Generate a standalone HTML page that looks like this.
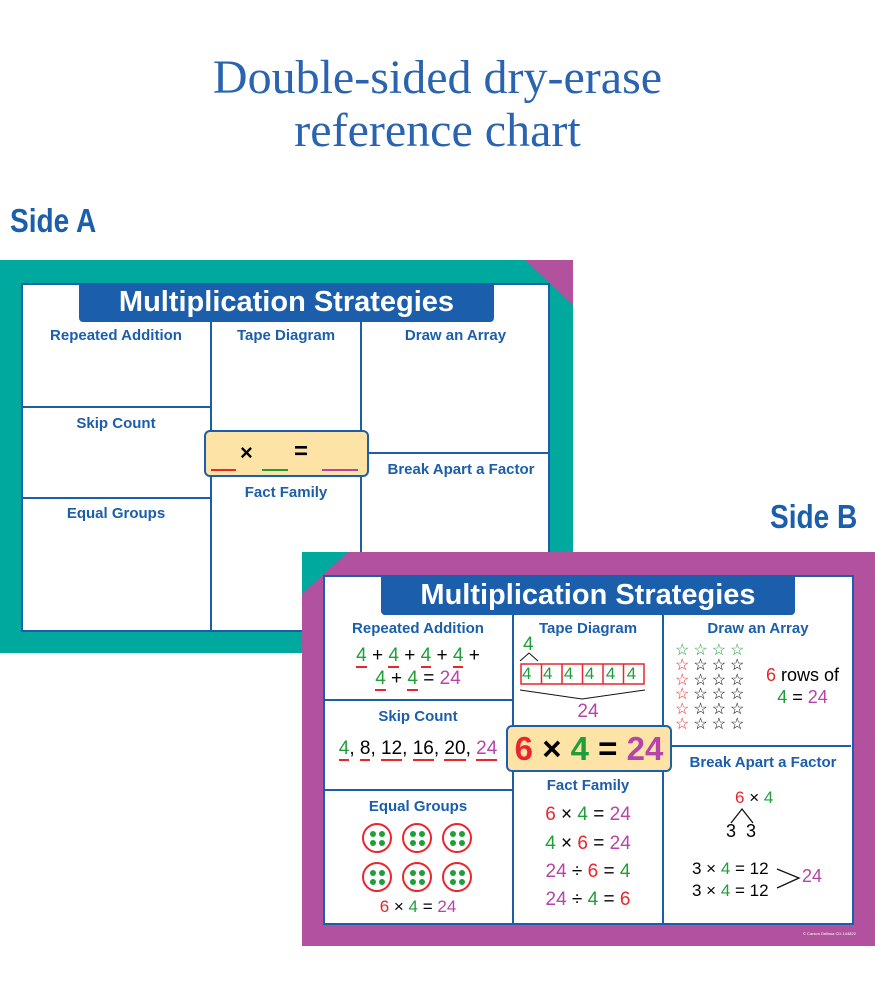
<!DOCTYPE html><html><head><style>
body{margin:0;width:875px;height:1000px;background:#fff;position:relative;overflow:hidden;font-family:"Liberation Sans",sans-serif}
.a{position:absolute}
.h{color:#1b5eab;font-weight:bold;font-size:15px;text-align:center;position:absolute}
.ln{position:absolute;background:#1b5eab}
.r{color:#e8262b}.g{color:#1f9e3a}.p{color:#b545a8}.k{color:#111}
.m{position:absolute;font-size:19px;text-align:center;white-space:nowrap}
u{text-decoration:none;border-bottom:2px solid #e8262b}
.c{position:absolute;width:30px;height:30px;border:2px solid #e8262b;border-radius:50%;box-sizing:border-box}
.c i{position:absolute;width:6px;height:6px;border-radius:50%;background:#1f9e3a}
</style></head><body>
<div class="a" style="left:0;top:51px;width:875px;text-align:center;font-family:'Liberation Serif',serif;font-size:48px;color:#2a63b0;line-height:53px">Double-sided dry-erase<br>reference chart</div>
<div class="a" style="left:10px;top:202px;font-size:33px;font-weight:bold;color:#1b5eab;transform:scaleX(0.85);transform-origin:left">Side A</div>
<div class="a" style="left:770px;top:498px;font-size:33px;font-weight:bold;color:#1b5eab;transform:scaleX(0.85);transform-origin:left">Side B</div>

<!-- Side A -->
<div class="a" style="left:0;top:260px;width:573px;height:393px;background:#00a99d"></div>
<div class="a" style="left:525px;top:260px;width:0;height:0;border-top:45px solid #b2529e;border-left:48px solid transparent"></div>
<div class="a" style="left:21px;top:283px;width:525px;height:345px;background:#fff;border:2px solid #1b5eab"></div>
<div class="a" style="left:79px;top:284px;width:415px;height:38px;background:#1b5eab;border-radius:0 0 4px 4px;color:#fff;font-weight:bold;font-size:29px;text-align:center;line-height:36px">Multiplication Strategies</div>
<div class="ln" style="left:210px;top:322px;width:2px;height:308px"></div>
<div class="ln" style="left:360px;top:322px;width:2px;height:308px"></div>
<div class="ln" style="left:21px;top:406px;width:190px;height:2px"></div>
<div class="ln" style="left:21px;top:497px;width:190px;height:2px"></div>
<div class="ln" style="left:361px;top:452px;width:188px;height:2px"></div>
<div class="h" style="left:21px;top:327px;width:190px">Repeated Addition</div>
<div class="h" style="left:211px;top:327px;width:150px">Tape Diagram</div>
<div class="h" style="left:361px;top:327px;width:189px">Draw an Array</div>
<div class="h" style="left:21px;top:415px;width:190px">Skip Count</div>
<div class="h" style="left:21px;top:505px;width:190px">Equal Groups</div>
<div class="h" style="left:211px;top:484px;width:150px">Fact Family</div>
<div class="h" style="left:372px;top:461px;width:178px">Break Apart a Factor</div>
<div class="a" style="left:204px;top:430px;width:161px;height:43px;background:#fde4a6;border:2px solid #1b5eab;border-radius:6px"></div>
<div class="a" style="left:240px;top:440px;font-size:22px;font-weight:bold">×</div>
<div class="a" style="left:294px;top:438px;font-size:24px;font-weight:bold">=</div>
<div class="a" style="left:211px;top:469px;width:25px;height:2px;background:#e8262b"></div>
<div class="a" style="left:262px;top:469px;width:26px;height:2px;background:#1f9e3a"></div>
<div class="a" style="left:322px;top:469px;width:36px;height:2px;background:#b545a8"></div>

<!-- Side B -->
<div class="a" style="left:302px;top:552px;width:573px;height:394px;background:#b2529e"></div>
<div class="a" style="left:302px;top:552px;width:0;height:0;border-top:42px solid #00a99d;border-right:46px solid transparent"></div>
<div class="a" style="left:323px;top:575px;width:527px;height:346px;background:#fff;border:2px solid #1b5eab"></div>
<div class="a" style="left:381px;top:577px;width:414px;height:38px;background:#1b5eab;border-radius:0 0 4px 4px;color:#fff;font-weight:bold;font-size:29px;text-align:center;line-height:36px">Multiplication Strategies</div>
<div class="ln" style="left:512px;top:615px;width:2px;height:308px"></div>
<div class="ln" style="left:662px;top:615px;width:2px;height:308px"></div>
<div class="ln" style="left:323px;top:699px;width:190px;height:2px"></div>
<div class="ln" style="left:323px;top:789px;width:190px;height:2px"></div>
<div class="ln" style="left:663px;top:745px;width:188px;height:2px"></div>
<div class="h" style="left:323px;top:620px;width:190px">Repeated Addition</div>
<div class="h" style="left:513px;top:620px;width:150px">Tape Diagram</div>
<div class="h" style="left:663px;top:620px;width:190px">Draw an Array</div>
<div class="h" style="left:323px;top:708px;width:190px">Skip Count</div>
<div class="h" style="left:323px;top:798px;width:190px">Equal Groups</div>
<div class="h" style="left:513px;top:777px;width:150px">Fact Family</div>
<div class="h" style="left:673px;top:754px;width:180px">Break Apart a Factor</div>

<div class="m" style="left:323px;top:645px;width:190px"><u class="g">4</u> + <u class="g">4</u> + <u class="g">4</u> + <u class="g">4</u> +</div>
<div class="m" style="left:323px;top:668px;width:190px"><u class="g">4</u> + <u class="g">4</u> = <span class="p">24</span></div>
<div class="m" style="left:323px;top:738px;width:190px"><u class="g">4</u>, <u>8</u>, <u>12</u>, <u>16</u>, <u>20</u>, <u class="p">24</u></div>

<!-- tape -->
<div class="m g" style="left:523px;top:634px">4</div>
<svg class="a" style="left:515px;top:650px" width="150" height="60"><polyline points="5,11 14,3 23,11" fill="none" stroke="#111"/><rect x="6" y="14" width="123" height="20" fill="none" stroke="#e8262b" stroke-width="1.5"/><g stroke="#e8262b" stroke-width="1.5"><line x1="26.5" y1="14" x2="26.5" y2="34"/><line x1="47" y1="14" x2="47" y2="34"/><line x1="67.5" y1="14" x2="67.5" y2="34"/><line x1="88" y1="14" x2="88" y2="34"/><line x1="108.5" y1="14" x2="108.5" y2="34"/></g><polyline points="5,40 67,49 130,40" fill="none" stroke="#111"/></svg>
<div class="a g" style="left:522px;top:664px;font-size:17px;letter-spacing:11.5px">444444</div>
<div class="m p" style="left:513px;top:701px;width:150px">24</div>

<!-- array -->
<div class="a" style="left:675px;top:644px;font-size:16px;line-height:14.8px;letter-spacing:4px"><span class="g">☆☆☆☆</span><br><span class="r">☆</span>☆☆☆<br><span class="r">☆</span>☆☆☆<br><span class="r">☆</span>☆☆☆<br><span class="r">☆</span>☆☆☆<br><span class="r">☆</span>☆☆☆</div>
<div class="m" style="left:755px;top:664px;width:95px;font-size:18px;line-height:22px"><span class="r">6</span> rows of<br><span class="g">4</span> = <span class="p">24</span></div>

<!-- center box -->
<div class="a" style="left:506px;top:725px;width:162px;height:43px;background:#fde4a6;border:2px solid #1b5eab;border-radius:6px;text-align:center;font-size:33px;font-weight:bold;line-height:43px"><span class="r">6</span> × <span class="g">4</span> = <span class="p">24</span></div>

<!-- fact family -->
<div class="m" style="left:513px;top:804px;width:150px"><span class="r">6</span> × <span class="g">4</span> = <span class="p">24</span></div>
<div class="m" style="left:513px;top:833px;width:150px"><span class="g">4</span> × <span class="r">6</span> = <span class="p">24</span></div>
<div class="m" style="left:513px;top:861px;width:150px"><span class="p">24</span> ÷ <span class="r">6</span> = <span class="g">4</span></div>
<div class="m" style="left:513px;top:889px;width:150px"><span class="p">24</span> ÷ <span class="g">4</span> = <span class="r">6</span></div>

<!-- break apart -->
<div class="m" style="left:735px;top:788px;font-size:17px"><span class="r">6</span> × <span class="g">4</span></div>
<svg class="a" style="left:728px;top:806px" width="30" height="20"><polyline points="3,17 14,3 25,17" fill="none" stroke="#111" stroke-width="1.3"/></svg>
<div class="m" style="left:726px;top:821px;font-size:18px">3&nbsp;&nbsp;3</div>
<div class="m" style="left:692px;top:858px;font-size:17px;line-height:22px;text-align:left">3 × <span class="g">4</span> = 12<br>3 × <span class="g">4</span> = 12</div>
<svg class="a" style="left:775px;top:866px" width="28" height="26"><polyline points="2,3 24,12 2,22" fill="none" stroke="#111" stroke-width="1.3"/></svg>
<div class="m p" style="left:802px;top:866px;font-size:18px">24</div>

<!-- groups -->
<div class="c" style="left:362px;top:823px"><i style="left:6px;top:6px"></i><i style="left:15px;top:6px"></i><i style="left:6px;top:15px"></i><i style="left:15px;top:15px"></i></div>
<div class="c" style="left:402px;top:823px"><i style="left:6px;top:6px"></i><i style="left:15px;top:6px"></i><i style="left:6px;top:15px"></i><i style="left:15px;top:15px"></i></div>
<div class="c" style="left:442px;top:823px"><i style="left:6px;top:6px"></i><i style="left:15px;top:6px"></i><i style="left:6px;top:15px"></i><i style="left:15px;top:15px"></i></div>
<div class="c" style="left:362px;top:862px"><i style="left:6px;top:6px"></i><i style="left:15px;top:6px"></i><i style="left:6px;top:15px"></i><i style="left:15px;top:15px"></i></div>
<div class="c" style="left:402px;top:862px"><i style="left:6px;top:6px"></i><i style="left:15px;top:6px"></i><i style="left:6px;top:15px"></i><i style="left:15px;top:15px"></i></div>
<div class="c" style="left:442px;top:862px"><i style="left:6px;top:6px"></i><i style="left:15px;top:6px"></i><i style="left:6px;top:15px"></i><i style="left:15px;top:15px"></i></div>
<div class="m" style="left:323px;top:897px;width:190px;font-size:17px"><span class="r">6</span> × <span class="g">4</span> = <span class="p">24</span></div>
<div class="a" style="left:803px;top:931px;font-size:4px;color:#fff">© Carson Dellosa CD-144822</div>
</body></html>
